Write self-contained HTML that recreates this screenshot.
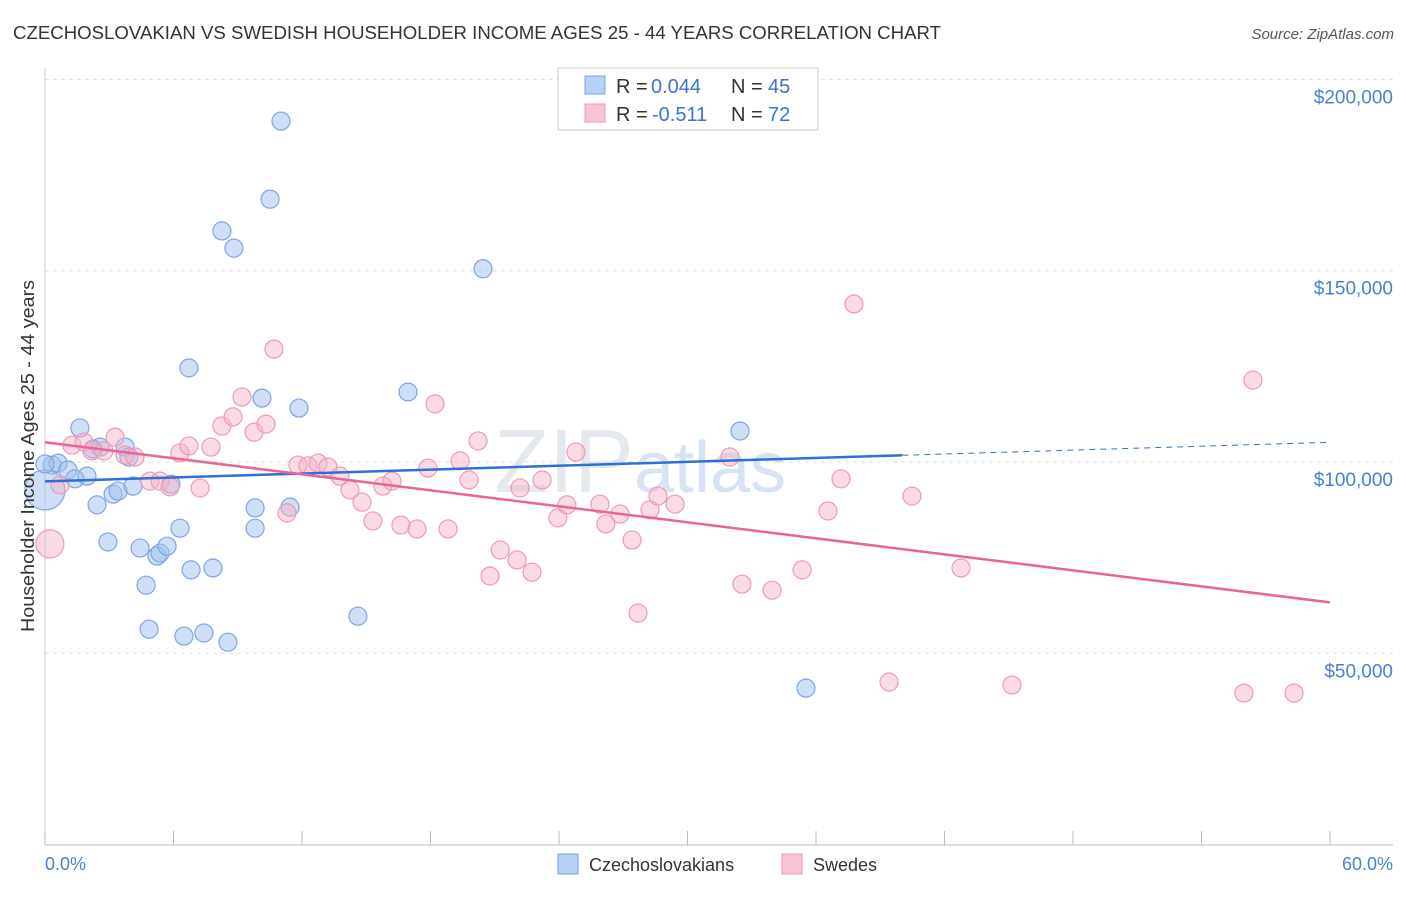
<!DOCTYPE html>
<html><head><meta charset="utf-8"><style>
body{margin:0;background:#fff;font-family:"Liberation Sans",sans-serif;}
svg text{font-family:"Liberation Sans",sans-serif;}
</style></head><body>
<svg id="chart" width="1406" height="892">
<text x="13" y="39" font-size="18" fill="#333" textLength="928" lengthAdjust="spacingAndGlyphs">CZECHOSLOVAKIAN VS SWEDISH HOUSEHOLDER INCOME AGES 25 - 44 YEARS CORRELATION CHART</text>
<text x="1394" y="39" font-size="15" fill="#555" text-anchor="end" font-style="italic">Source: ZipAtlas.com</text>
<text x="640" y="492" font-size="90" fill="#e4e8ef" text-anchor="middle" font-family="Liberation Serif">ZIP<tspan fill="#d6e3f5" font-family="Liberation Sans" font-size="72">atlas</tspan></text>
<g id="grid"></g>
<g id="axes"></g>
<g id="marks"></g>
<text transform="translate(34,456) rotate(-90)" font-size="18" fill="#333" text-anchor="middle" textLength="352" lengthAdjust="spacingAndGlyphs">Householder Income Ages 25 - 44 years</text>
<text x="45" y="870" font-size="18" fill="#4a7fd4">0.0%</text>
<text x="1393" y="870" font-size="18" fill="#4a7fd4" text-anchor="end">60.0%</text>
<g>
<rect x="558" y="68" width="260" height="62" fill="#fff" stroke="#ccc"/>
<rect x="585" y="76" width="20" height="18" fill="#b7d0f5" stroke="#7ea6e0"/>
<rect x="585" y="104" width="20" height="18" fill="#f8c3d3" stroke="#ee9ab5"/>
<text x="616" y="93" font-size="20" fill="#333">R =</text>
<text x="651" y="93" font-size="20" fill="#3a74d0">0.044</text>
<text x="731" y="93" font-size="20" fill="#333">N =</text>
<text x="768" y="93" font-size="20" fill="#3a74d0">45</text>
<text x="616" y="121" font-size="20" fill="#333">R =</text>
<text x="652" y="121" font-size="20" fill="#3a74d0">-0.511</text>
<text x="731" y="121" font-size="20" fill="#333">N =</text>
<text x="768" y="121" font-size="20" fill="#3a74d0">72</text>
</g>
<g>
<rect x="558" y="854" width="20" height="20" fill="#b7d0f5" stroke="#7ea6e0"/>
<text x="589" y="871" font-size="18" fill="#333">Czechoslovakians</text>
<rect x="782" y="854" width="20" height="20" fill="#f8c3d3" stroke="#ee9ab5"/>
<text x="813" y="871" font-size="18" fill="#333">Swedes</text>
</g>
</svg>
<script>
const yTicks=[50000,100000,150000,200000];
const yTickLabels=["$50,000","$100,000","$150,000","$200,000"];
const xTicks=[0,6,12,18,24,30,36,42,48,54,60];
const blueX=[0.33,0.61,1.07,1.4,1.63,1.96,2.43,2.24,2.57,2.94,3.18,3.41,3.74,3.92,4.11,4.44,4.72,4.86,5.23,5.37,5.7,5.88,6.3,6.49,6.72,6.82,7.42,7.84,8.26,8.54,8.82,9.81,9.81,10.13,10.51,11.02,11.44,11.86,14.61,16.95,20.45,32.45,35.53,0,0];
const blueY=[99200,99700,97900,95600,108900,96300,88800,103400,103900,79100,91600,92400,103900,101300,93700,77500,67800,56300,75400,76200,78000,94200,82700,54500,124600,71800,55300,72300,160400,52900,155900,88000,82700,116700,168700,189100,88200,114100,59700,118300,150500,108100,40900,92700,99500];
const pinkX=[0.23,0.7,1.26,1.82,2.19,2.75,3.27,3.74,4.2,4.9,5.37,5.84,6.3,6.72,7.24,7.75,8.26,8.78,9.2,9.76,10.32,10.69,11.3,11.81,12.28,12.75,13.21,13.77,14.24,14.8,15.31,15.78,16.2,16.62,17.37,17.88,18.21,18.82,19.38,19.8,20.22,20.78,21.25,22.04,22.18,22.74,23.21,23.95,24.37,24.79,25.91,26.19,26.85,27.41,27.69,28.25,28.62,29.42,31.98,32.54,33.95,35.35,36.56,37.17,37.77,39.41,40.48,42.77,45.15,55.98,56.4,58.32];
const pinkY=[78600,94000,104400,105200,102900,102900,106500,101800,101300,95000,95000,93500,102400,104200,93200,103900,109400,111800,117000,107800,109900,129500,86700,99200,99000,99700,98700,96300,92700,89500,84600,93700,95000,83500,82500,98400,115200,82500,100300,95300,105500,70200,77000,74400,93200,71200,95300,85400,88800,102600,89000,83800,86400,79600,60500,87500,91100,89000,101300,68100,66500,71800,87200,95600,141300,42500,91100,72300,41700,39600,121400,39600];
const NS="http://www.w3.org/2000/svg";
const X0=45,X1=1330,Y0=844.6,PPV=191.3/50000;
function sx(v){return X0+v/60*(X1-X0);}
function sy(v){return Y0-v*PPV;}
function mk(tag,attrs,parent){const e=document.createElementNS(NS,tag);for(const k in attrs)e.setAttribute(k,attrs[k]);parent.appendChild(e);return e;}
const grid=document.getElementById('grid'),axes=document.getElementById('axes'),marks=document.getElementById('marks');
yTicks.forEach((t,i)=>{
 const l=mk('line',{x1:45,x2:1393,y1:sy(t),y2:sy(t),stroke:'#ddd','stroke-dasharray':'4,4'},grid);
 
 
 const tx=mk('text',{x:1393,y:sy(t)+24,'font-size':19,fill:'#4a7fd4','text-anchor':'end'},grid);
 tx.textContent=yTickLabels[i];
 
 
});
const ax=mk('line',{x1:45,x2:1393,y1:845,y2:845,stroke:'#bbb'},axes);


const ay=mk('line',{x1:45,x2:45,y1:68,y2:845,stroke:'#ccc'},axes);


xTicks.forEach(t=>{
 const l=mk('line',{x1:sx(t),x2:sx(t),y1:831,y2:845,stroke:'#bbb'},axes);
 
 
});
function fit(xs,ys){const n=xs.length;let mx=0,my=0;for(let i=0;i<n;i++){mx+=xs[i];my+=ys[i];}mx/=n;my/=n;let sxy=0,sxx=0;for(let i=0;i<n;i++){sxy+=(xs[i]-mx)*(ys[i]-my);sxx+=(xs[i]-mx)**2;}const b=sxy/sxx;return [my-b*mx,b];}
function dots(xs,ys,fill,stroke,name){
 xs.forEach((x,i)=>{
  let r=9;
  if(x===0&&ys[i]===92700)r=20;
  if(x===0.23&&ys[i]===78600)r=14;
  const c=mk('circle',{cx:sx(x),cy:sy(ys[i]),r:r,fill:fill,stroke:stroke,'stroke-width':1.2},marks);
  
  
 });
}
dots(blueX,blueY,'rgba(160,192,240,0.5)','#7ea6e0','czech-point');
dots(pinkX,pinkY,'rgba(245,175,198,0.45)','#ee9ab5','swede-point');
const bf=fit(blueX,blueY),pf=fit(pinkX,pinkY);
const bmax=Math.max(...blueX)+4.5;
const bl=mk('line',{x1:sx(0),y1:sy(bf[0]),x2:sx(bmax),y2:sy(bf[0]+bf[1]*bmax),stroke:'#2f6fd6','stroke-width':2.5},marks);


const bd=mk('line',{x1:sx(bmax),y1:sy(bf[0]+bf[1]*bmax),x2:sx(60),y2:sy(bf[0]+bf[1]*60),stroke:'#2f6fd6','stroke-width':1,'stroke-dasharray':'6,5'},marks);


const pl=mk('line',{x1:sx(0),y1:sy(pf[0]),x2:sx(60),y2:sy(pf[0]+pf[1]*60),stroke:'#e8649a','stroke-width':2.5},marks);


</script>
</body></html>
